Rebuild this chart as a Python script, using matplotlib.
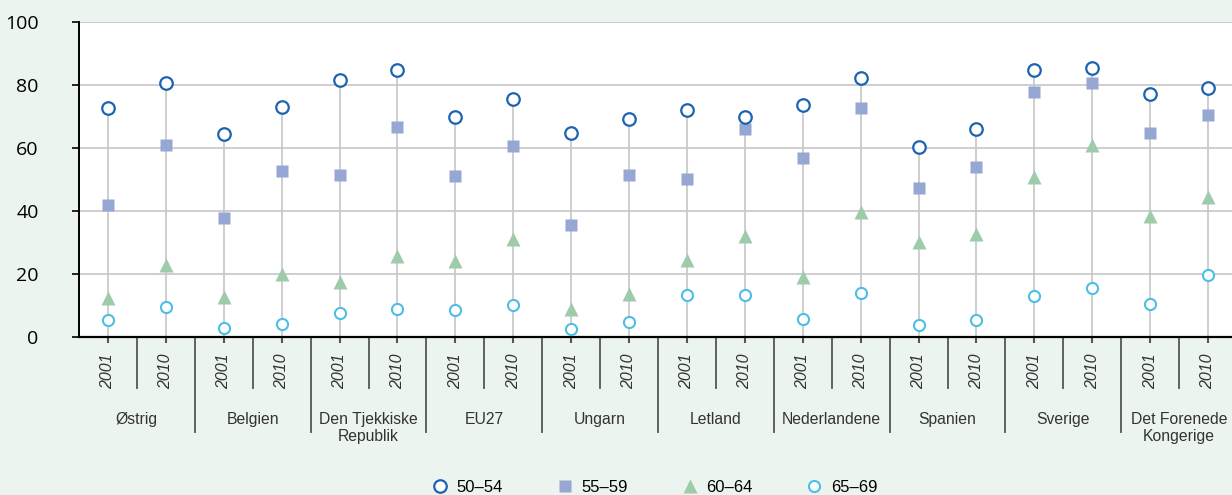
import numpy as np
import matplotlib
matplotlib.use("Agg")
import matplotlib.pyplot as plt
import matplotlib.transforms as mtransforms

countries = ["Østrig", "Belgien", "Den Tjekkiske\nRepublik", "EU27", "Ungarn",
             "Letland", "Nederlandene", "Spanien", "Sverige", "Det Forenede\nKongerige"]
years = ["2001", "2010"]

# values in pairs: (2001, 2010) per country
age_50_54 = [72.6, 80.6, 64.6, 73.1, 81.5, 84.8, 69.9, 75.4, 64.9, 69.2,
             72.0, 69.9, 73.7, 82.3, 60.2, 66.0, 84.8, 85.5, 77.2, 79.0]
age_55_59 = [41.9, 60.9, 37.8, 52.6, 51.4, 66.7, 51.0, 60.7, 35.6, 51.5,
             50.2, 65.9, 56.8, 72.7, 47.4, 54.1, 77.8, 80.6, 64.9, 70.5]
age_60_64 = [12.3, 22.9, 12.6, 19.9, 17.5, 25.8, 24.0, 31.2, 9.0, 13.6,
             24.5, 32.2, 19.0, 39.7, 30.2, 32.6, 50.9, 61.0, 38.4, 44.3]
age_65_69 = [5.4, 9.5, 2.9, 4.1, 7.5, 9.0, 8.5, 10.2, 2.5, 4.7,
             13.2, 13.2, 5.7, 14.0, 3.8, 5.3, 13.1, 15.5, 10.5, 19.8]

bg = "#ecf4ef"
grid_c = "#c6c6c8"

fig = plt.figure(figsize=(12.32, 4.95), dpi=100, facecolor=bg)
ax = fig.add_axes([79 / 1232, 1 - 337 / 495, 1158 / 1232, 315 / 495])
ax.set_facecolor("white")

x = np.arange(len(age_50_54))
ax.vlines(x, 0, age_50_54, color=grid_c, lw=1.2, zorder=1)

ax.plot(x, age_50_54, "o", ls="none", ms=9, mfc="white", mec="#1c63b0", mew=1.6,
        label="50–54", zorder=4)
ax.plot(x, age_55_59, "s", ls="none", ms=8.5, mfc="#96a7d3", mec="none",
        label="55–59", zorder=3)
ax.plot(x, age_60_64, "^", ls="none", ms=10, mfc="#9ecba9", mec="none",
        label="60–64", zorder=3)
ax.plot(x, age_65_69, "o", ls="none", ms=8, mfc="white", mec="#4cbfe2", mew=1.5,
        label="65–69", zorder=4)

ax.set_xlim(-0.5, len(x) - 0.5)
ax.set_ylim(0, 100)
ax.set_yticks([0, 20, 40, 60, 80, 100])
ax.yaxis.grid(True, color=grid_c, lw=1.2, zorder=0)
ax.set_axisbelow(True)
for s in ["top", "right"]:
    ax.spines[s].set_visible(False)
ax.spines["left"].set_linewidth(1.4)
ax.spines["bottom"].set_linewidth(1.6)
ax.tick_params(axis="y", length=5, width=1.2, pad=24, labelsize=14)
for lbl in ax.get_yticklabels():
    lbl.set_fontfamily("Open Sans")

ax.set_xticks(x)
ax.set_xticklabels(years * len(countries), rotation=90, fontsize=11.5,
                   fontstyle="italic", family="Liberation Sans", color="#333333")
ax.tick_params(axis="x", length=4, width=1.5, color="#555555", pad=8)

trans = mtransforms.blended_transform_factory(ax.transData, ax.transAxes)
px = 1 / 315.0
for i in range(len(countries)):
    ax.plot([2 * i + 0.5] * 2, [0, -51 * px], color="#555555", lw=1.3,
            transform=trans, clip_on=False)
    if i > 0:
        ax.plot([2 * i - 0.5] * 2, [0, -95 * px], color="#555555", lw=1.3,
                transform=trans, clip_on=False)
    ax.text(2 * i + 0.5, -75 * px, countries[i], transform=trans, ha="center",
            va="top", fontsize=11.3, family="Liberation Sans", color="#333333",
            linespacing=1.15)

ax.legend(loc="center", bbox_to_anchor=(0.497, -150 * px), ncol=4, frameon=False,
          prop={"family": "Liberation Sans", "size": 12}, handlelength=1.0,
          handletextpad=0.5, columnspacing=3.2, numpoints=1)

fig.savefig("out.png", dpi=100, facecolor=bg)
